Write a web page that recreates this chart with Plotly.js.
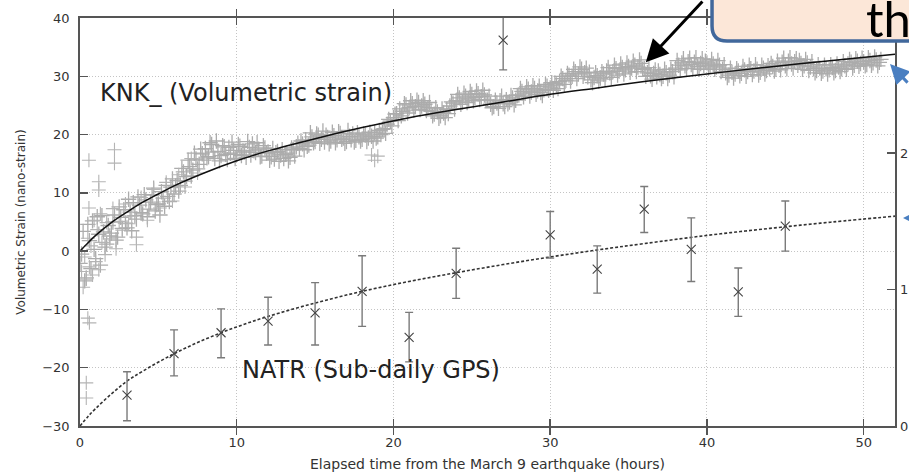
<!DOCTYPE html>
<html><head><meta charset="utf-8">
<script src="https://cdn.plot.ly/plotly-3.0.1.min.js"></script>
<style>html,body{margin:0;padding:0;background:#fff}#chart{width:909px;height:475px}</style>
</head><body><div id="chart"></div>
<script>
// KNK volumetric strain samples, every 0.2 h starting at 0 h
const knkStep = 0.2;
const knkY = [
  -2.1, 3.4, -4.6, 1.8, 5.2, -1.3, 2.9, 6.1, 0.7, 4.4,
  3.1, 6.2, 2.4, 5.8, 7.1, 4.0, 6.7, 8.3, 5.5, 7.9,
  6.4, 8.8, 7.2, 9.6, 6.9, 8.1, 10.2, 7.7, 9.4, 11.0,
  9.8, 12.1, 11.3, 13.6, 12.8, 14.5, 13.9, 15.8, 14.9, 16.7,
  17.6, 16.2, 18.3, 15.9, 17.1, 16.4, 17.9, 15.7, 16.8, 17.3,
  16.6, 18.0, 17.2, 16.1, 17.8, 18.4, 16.9, 17.5, 16.3, 17.7,
  17.0, 16.2, 15.8, 17.1, 16.5, 15.9, 16.8, 16.1, 17.4, 17.9,
  17.6, 18.4, 19.1, 18.2, 19.6, 18.8, 19.9, 19.2, 18.7, 19.5,
  18.9, 19.8, 19.1, 20.2, 19.4, 18.8, 19.7, 20.1, 19.0, 19.6,
  19.2, 19.9, 19.4, 19.7, 20.3, 19.6, 20.0, 21.0, 21.8, 22.3,
  22.9, 23.6, 24.4, 24.0, 25.1, 24.6, 25.3, 24.8, 25.5, 24.9,
  25.2, 24.6, 24.0, 23.5, 23.9, 23.2, 23.7, 24.3, 24.9, 25.4,
  25.8, 26.3, 25.6, 26.6, 26.1, 26.9, 26.4, 27.0, 26.5, 26.8,
  25.9, 25.2, 24.8, 25.4, 25.8, 25.3, 26.0, 25.6, 26.3, 25.9,
  26.8, 27.4, 27.1, 27.8, 27.3, 27.9, 27.5, 27.2, 27.7, 28.3,
  28.0, 27.6, 28.5, 29.1, 29.6, 29.3, 30.2, 30.0, 30.8, 30.4,
  31.2, 30.6, 29.9, 29.4, 29.8, 30.1, 29.7, 30.4, 30.9, 30.6,
  30.8, 31.3, 30.9, 31.5, 31.1, 31.7, 31.4, 31.9, 31.6, 32.2,
  31.3, 30.6, 30.1, 30.5, 29.9, 30.3, 30.0, 30.6, 30.2, 30.8,
  31.4, 31.9, 32.3, 31.8, 32.5, 32.0, 32.4, 31.7, 32.2, 31.9,
  32.3, 31.8, 32.1, 31.6, 31.9, 31.2, 30.6, 30.2, 30.7, 30.4,
  30.9, 30.5, 31.1, 30.8, 31.3, 30.9, 31.2, 30.7, 31.4, 31.0,
  31.3, 31.7, 31.2, 31.9, 32.4, 31.8, 32.6, 32.1, 32.5, 31.9,
  32.2, 31.8, 32.3, 31.6, 31.3, 31.0, 31.4, 30.9, 31.3, 31.1,
  31.5, 31.0, 31.6, 31.3, 31.8, 32.1, 32.4, 31.9, 32.6, 32.2,
  32.5, 32.0, 32.7, 32.3, 32.8, 32.4
];
// KNK samples in between, every 0.2 h starting at 0.1 h
const knkStart2 = 0.1;
const knkY2 = [
  -0.5, -5.1, 4.6, -3.0, 0.3, 5.9, -2.4, 3.3, 1.2, 2.6,
  5.0, 1.9, 7.6, 3.9, 4.8, 8.9, 3.5, 6.1, 9.3, 6.6,
  9.7, 5.9, 8.4, 10.8, 8.0, 6.2, 9.1, 11.3, 8.5, 12.4,
  11.2, 10.3, 14.2, 12.0, 15.6, 12.9, 16.8, 14.1, 17.5, 15.6,
  16.0, 18.6, 17.0, 18.9, 15.5, 18.1, 16.6, 17.8, 18.7, 15.9,
  18.3, 16.4, 17.0, 18.8, 16.5, 17.2, 18.6, 16.2, 18.1, 16.8,
  15.6, 17.6, 16.9, 15.4, 17.4, 16.6, 15.5, 17.7, 16.3, 18.5,
  18.9, 17.4, 18.0, 20.3, 18.6, 20.1, 18.5, 20.6, 19.9, 18.4,
  20.4, 18.6, 20.5, 19.2, 18.5, 20.7, 19.1, 18.7, 20.3, 18.9,
  20.1, 18.8, 20.4, 18.9, 19.4, 20.7, 20.9, 20.2, 22.6, 21.5,
  23.5, 22.4, 23.2, 25.3, 23.7, 25.8, 24.2, 25.9, 24.3, 25.8,
  24.1, 25.5, 23.2, 24.6, 22.8, 24.4, 22.9, 23.6, 25.6, 24.4,
  26.9, 25.2, 27.1, 25.5, 27.4, 25.8, 27.5, 26.0, 27.6, 25.9,
  26.6, 24.6, 25.9, 24.5, 26.6, 24.8, 25.3, 26.7, 25.1, 26.7,
  27.9, 26.5, 28.2, 26.6, 28.4, 26.9, 28.3, 26.7, 28.6, 27.6,
  28.9, 28.8, 27.9, 30.0, 28.6, 30.5, 29.2, 31.2, 29.6, 31.6,
  30.0, 31.4, 30.7, 28.9, 30.6, 29.2, 30.8, 29.5, 31.5, 29.8,
  31.9, 30.2, 32.1, 30.4, 32.3, 30.7, 32.6, 30.8, 32.8, 31.2,
  30.0, 31.5, 29.5, 31.1, 30.9, 29.6, 31.2, 29.6, 31.2, 29.9,
  32.7, 31.1, 33.0, 31.3, 33.1, 31.4, 33.2, 31.2, 33.0, 32.6,
  31.4, 32.9, 31.2, 32.7, 30.8, 32.0, 29.8, 31.4, 29.7, 31.3,
  30.1, 31.7, 30.0, 31.9, 30.3, 32.0, 30.2, 31.9, 30.4, 31.8,
  32.2, 30.9, 32.6, 31.1, 33.1, 31.3, 33.2, 31.4, 33.0, 32.7,
  31.2, 32.9, 31.0, 32.5, 30.6, 32.0, 30.5, 31.9, 30.4, 32.0,
  30.6, 32.1, 30.8, 32.5, 31.2, 32.9, 31.4, 33.0, 31.7, 33.1,
  31.8, 33.2, 31.9, 33.3, 31.8, 32.9
];
// additional scattered KNK samples (early scatter and outliers)
const knkExtraX = [0.1,0.2,0.3,0.4,0.5,0.6,0.7,0.8,0.9,1.0,1.1,1.2,1.3,1.4,1.6,1.7,1.9,2.1,2.3,2.5,2.7,2.9,3.1,3.3,3.6,3.6,3.9,4.3,4.7,5.1,5.5,5.9,6.3,6.7,7.1,7.5,
  0.57,2.2,2.2,1.2,1.2,0.57,0.5,0.6,0.4,0.4,18.6,18.8,19.0];
const knkExtraY = [-3.5,-6.2,-1.0,-4.8,2.2,-2.7,0.9,-4.1,5.3,-1.8,3.7,-3.2,6.4,1.5,-0.6,4.9,2.1,7.3,0.4,5.1,3.6,8.1,4.7,6.0,2.4,1.1,9.2,5.3,10.6,7.4,11.8,8.6,13.1,11.0,15.9,13.4,
  15.6,17.4,15.1,11.9,10.5,7.4,-11.5,-12.3,-22.6,-25.2,16.5,15.6,16.3];
// KNK fitted curve
const knkFitX = [0,0.5,1,2,3,4,5,6,8,10,12,15,18,21,24,27,30,33,36,40,44,48,52];
const knkFitY = [0,1.4,2.7,4.9,6.7,8.4,9.8,11.2,13.5,15.5,17.2,19.3,21.2,22.9,24.3,25.6,26.9,28.0,29.1,30.4,31.6,32.7,33.8];
// NATR sub-daily GPS estimates
const natrX = [3,6,9,12,15,18,21,24,27,30,33,36,39,42,45];
const natrY = [-24.7,-17.6,-14.0,-12.0,-10.6,-6.9,-14.8,-3.8,36.2,2.8,-3.1,7.2,0.3,-7.0,4.3];
const natrErrUp = [4.0,4.1,4.1,4.1,5.2,6.1,4.3,4.3,5.1,4.0,4.0,3.9,5.4,4.1,4.3];
const natrErrDown = [4.4,3.8,4.3,4.1,5.5,6.0,4.2,4.3,5.1,4.0,4.1,4.0,5.5,4.2,4.3];
// NATR fitted curve
const natrFitX = [0,0.5,1,2,3,4,6,8,10,12,15,18,21,24,27,30,33,36,40,44,48,52];
const natrFitY = [-30,-28.4,-27,-24.5,-22.3,-20.6,-17.6,-15.1,-13.0,-11.2,-8.9,-6.9,-5.2,-3.7,-2.3,-1.0,0.2,1.3,2.7,3.9,5.0,6.0];

const xTicks = [0,10,20,30,40,50];
const yTicks = [-30,-20,-10,0,10,20,30,40];
const y2Ticks = [0,1,2];
const y2Labels = ['0','1','2'];

const FONT = 'DejaVu Sans, Arial, sans-serif';
const knkX = knkY.map((_, i) => +(i * knkStep).toFixed(2));
const knkX2 = knkY2.map((_, i) => +(knkStart2 + i * knkStep).toFixed(2));

const bandMarker = {symbol:'cross-thin', size:11, color:'#acacac', line:{color:'#acacac', width:1.3}};
const traces = [
  {x: knkX, y: knkY, type:'scatter', mode:'markers', marker:bandMarker, hoverinfo:'skip'},
  {x: knkX2, y: knkY2, type:'scatter', mode:'markers', marker:bandMarker, hoverinfo:'skip'},
  {x: knkExtraX, y: knkExtraY, type:'scatter', mode:'markers',
   marker:{symbol:'cross-thin', size:10, color:'#b4b4b4', line:{color:'#b4b4b4', width:1.1}}, hoverinfo:'skip'},
  {x: knkFitX, y: knkFitY, type:'scatter', mode:'lines', line:{color:'#111', width:1.5, shape:'spline'}},
  {x: natrFitX, y: natrFitY, type:'scatter', mode:'lines', line:{color:'#333', width:1.6, dash:'3px,2px', shape:'spline'}},
  {x: natrX, y: natrY, type:'scatter', mode:'markers',
   marker:{symbol:'x-thin', size:9, color:'#444', line:{color:'#444', width:1.1}},
   error_y:{type:'data', symmetric:false, array:natrErrUp, arrayminus:natrErrDown, color:'#7a7a7a', thickness:1.4, width:4}},
  {x: [], y: [], yaxis:'y2', type:'scatter', mode:'markers'}
];

const layout = {
  width:909, height:475,
  margin:{l:80, r:14, t:18, b:49},
  paper_bgcolor:'#fff', plot_bgcolor:'#fff',
  showlegend:false,
  font:{family:FONT, color:'#333', size:13},
  xaxis:{range:[0,52], tickvals:xTicks, ticks:'inside', ticklen:7, tickcolor:'#555', tickwidth:1.5,
    showline:true, linecolor:'#555', linewidth:1.8, mirror:'allticks',
    showgrid:true, gridcolor:'#c4c4c4', griddash:'1px,2px', gridwidth:1, zeroline:false,
    tickfont:{family:FONT, size:13, color:'#333'}, ticklabelstandoff:4,
    title:{text:'Elapsed time from the March 9 earthquake (hours)', font:{family:FONT, size:14, color:'#333'}, standoff:10}},
  yaxis:{range:[-30,40], tickvals:yTicks, ticks:'inside', ticklen:8, tickcolor:'#555', tickwidth:1.5,
    showline:true, linecolor:'#555', linewidth:1.8, mirror:true,
    showgrid:true, gridcolor:'#c4c4c4', griddash:'1px,2px', gridwidth:1, zeroline:false,
    tickfont:{family:FONT, size:13, color:'#333'}, ticklabelstandoff:6,
    title:{text:'Volumetric Strain (nano-strain)', font:{family:FONT, size:12, color:'#333'}, standoff:14}},
  yaxis2:{overlaying:'y', side:'right', range:[0,2.99], tickvals:y2Ticks, ticktext:y2Labels,
    ticks:'inside', ticklen:8, tickcolor:'#555', tickwidth:1.5, showline:false, showgrid:false, zeroline:false,
    tickfont:{family:FONT, size:13, color:'#333'}, ticklabelstandoff:4},
  shapes:[
    {type:'path', xref:'paper', yref:'paper', layer:'above',
     path:'M 0.7755,1.2 L 0.7755,0.9804 Q 0.7755,0.9436 0.7939,0.9436 L 1.1,0.9436 L 1.1,1.2 Z',
     fillcolor:'#fce7d8', line:{color:'#41689c', width:3.5}}
  ],
  annotations:[
    {x:1.15, y:27.1, xref:'x', yref:'y', text:'KNK_ (Volumetric strain)', showarrow:false, xanchor:'left', yanchor:'middle',
     font:{family:FONT, size:24, color:'#222'}},
    {x:10.2, y:-20.4, xref:'x', yref:'y', text:'NATR (Sub-daily GPS)', showarrow:false, xanchor:'left', yanchor:'middle',
     font:{family:FONT, size:24, color:'#222'}},
    {x:36.1, y:32.4, xref:'x', yref:'y', text:'', showarrow:true, ax:58, ay:-72, arrowhead:2, arrowsize:1.5, arrowwidth:3, arrowcolor:'#000'},
    {x:0.962, y:1.0, xref:'paper', yref:'paper', text:'the', showarrow:false, xanchor:'left', yanchor:'middle',
     font:{family:'Lato, Noto Sans, sans-serif', size:49, color:'#000'}},
    {x:0.9939, y:0.887, xref:'paper', yref:'paper', text:'', showarrow:true, ax:40, ay:20, arrowhead:2, arrowsize:1.3, arrowwidth:3, arrowcolor:'#4a7fc1'},
    {x:1.0098, y:0.51, xref:'paper', yref:'paper', text:'', showarrow:true, ax:30, ay:0, arrowhead:2, arrowsize:1, arrowwidth:2, arrowcolor:'#4a7fc1'}
  ]
};

Plotly.newPlot('chart', traces, layout, {staticPlot:true, displayModeBar:false});
</script>
</body></html>
